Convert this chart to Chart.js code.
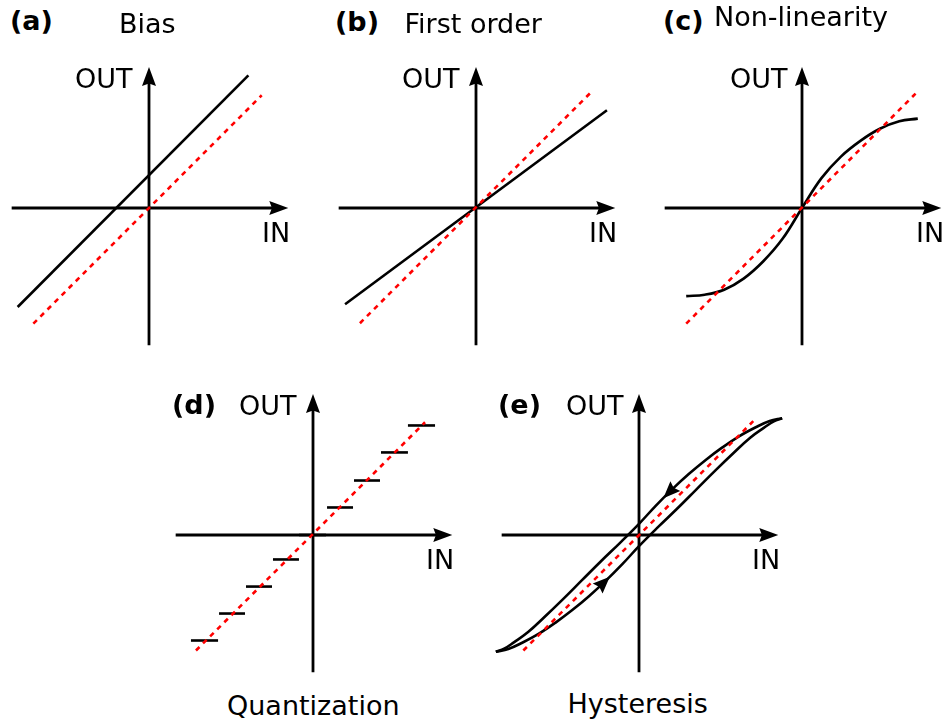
<!DOCTYPE html>
<html><head><meta charset="utf-8">
<script src="https://cdn.jsdelivr.net/npm/chart.js@4.4.1/dist/chart.umd.min.js"></script>
<style>
html,body{margin:0;padding:0;background:#fff;overflow:hidden;width:943px;height:719px}
.p{position:absolute;width:292px;height:292px}
.t{position:absolute;font-family:"DejaVu Sans";font-size:27px;line-height:27px;white-space:nowrap;color:#000}
.b{font-weight:bold}
</style></head><body>
<div class="p" style="left:3px;top:62px"><canvas id="ca" width="292" height="292"></canvas></div>
<div class="p" style="left:330px;top:62px"><canvas id="cb" width="292" height="292"></canvas></div>
<div class="p" style="left:656px;top:62px"><canvas id="cc" width="292" height="292"></canvas></div>
<div class="p" style="left:167px;top:389px"><canvas id="cd" width="292" height="292"></canvas></div>
<div class="p" style="left:493px;top:389px"><canvas id="ce" width="292" height="292"></canvas></div>

<div class="t b" style="left:10px;top:7px">(a)</div>
<div class="t" style="left:119px;top:10px">Bias</div>
<div class="t" style="left:75px;top:64.5px">OUT</div>
<div class="t" style="left:262px;top:219px">IN</div>

<div class="t b" style="left:335px;top:7.5px">(b)</div>
<div class="t" style="left:404.5px;top:10px">First order</div>
<div class="t" style="left:402px;top:64.5px">OUT</div>
<div class="t" style="left:589px;top:219px">IN</div>

<div class="t b" style="left:663px;top:7px">(c)</div>
<div class="t" style="left:714px;top:3px">Non-linearity</div>
<div class="t" style="left:730px;top:64.5px">OUT</div>
<div class="t" style="left:916px;top:219px">IN</div>

<div class="t b" style="left:172px;top:390.5px">(d)</div>
<div class="t" style="left:239px;top:392px">OUT</div>
<div class="t" style="left:426px;top:546px">IN</div>
<div class="t" style="left:227px;top:692px">Quantization</div>

<div class="t b" style="left:498px;top:390.5px">(e)</div>
<div class="t" style="left:566px;top:392px">OUT</div>
<div class="t" style="left:752px;top:546px">IN</div>
<div class="t" style="left:567.5px;top:689.5px">Hysteresis</div>

<script>
// ---- data (units: fraction of the axis half-length) ----
const axisInRange = [-0.988, 1.002];
const axisOutRange = [-0.988, 1.014];

// (a) Bias
const biasIn = [-0.945, 0.715];
const biasOut = [-0.712, 0.954];
const idealA_In = [-0.832, 0.811];
const idealA_Out = [-0.832, 0.811];

// (b) First order
const firstIn = [-0.942, 0.942];
const firstOut = [-0.693, 0.703];
const idealB_In = [-0.835, 0.820];
const idealB_Out = [-0.829, 0.825];

// (c) Non-linearity
const nonlinIn  = [-0.833, -0.70, -0.56, -0.42, -0.28, -0.14, 0, 0.14, 0.28, 0.42, 0.56, 0.70, 0.833];
const nonlinOut = [-0.634, -0.624, -0.588, -0.508, -0.385, -0.222, 0, 0.215, 0.37, 0.483, 0.57, 0.624, 0.643];
const idealC_In = [-0.833, 0.817];
const idealC_Out = [-0.832, 0.823];

// (d) Quantization
const quantLevel = [-0.759, -0.565, -0.371, -0.176, 0, 0.198, 0.392, 0.594, 0.788];
const quantFrom  = [-0.878, -0.676, -0.482, -0.288, -0.101, 0.101, 0.295, 0.489, 0.683];
const quantTo    = [-0.683, -0.489, -0.295, -0.101, 0.094, 0.288, 0.482, 0.683, 0.878];
const idealD_In = [-0.842, 0.806];
const idealD_Out = [-0.831, 0.811];

// (e) Hysteresis
const hystUpperIn  = [-1.03, -0.97, -0.90, -0.80, -0.68, -0.55, -0.41, -0.27, -0.14, 0, 0.12, 0.24, 0.36, 0.48, 0.60, 0.72, 0.84, 0.94, 1.03];
const hystUpperOut = [-0.84, -0.818, -0.772, -0.70, -0.59, -0.465, -0.325, -0.185, -0.06, 0.08, 0.21, 0.33, 0.44, 0.54, 0.63, 0.71, 0.775, 0.82, 0.84];
const hystLowerIn  = [-1.03, -0.94, -0.84, -0.72, -0.60, -0.48, -0.36, -0.24, -0.12, 0, 0.14, 0.27, 0.41, 0.55, 0.68, 0.80, 0.90, 0.97, 1.03];
const hystLowerOut = [-0.84, -0.82, -0.775, -0.71, -0.63, -0.54, -0.44, -0.33, -0.21, -0.08, 0.06, 0.185, 0.325, 0.465, 0.59, 0.70, 0.772, 0.818, 0.84];
const idealE_In = [-0.832, 0.822];
const idealE_Out = [-0.831, 0.819];
const hystArrowAt = [-0.21, 0.175];
const hystArrowDir = [1, -1];

// ---- helpers ----
const R = 146 / 139;
function pts(xs, ys) { return xs.map((x, i) => ({ x: x, y: ys[i] })); }
function black(xs, ys, smooth) {
  return { data: pts(xs, ys), showLine: true, borderColor: '#000', borderWidth: 2.6, pointRadius: 0, fill: false,
    tension: smooth ? 0.4 : 0, borderCapStyle: 'butt', borderJoinStyle: 'round' };
}
function red(xs, ys) {
  return { data: pts(xs, ys), showLine: true, borderColor: '#ff0000', borderWidth: 2.6, borderDash: [5, 5],
    pointRadius: 0, fill: false, borderCapStyle: 'butt' };
}
function arrowHead(ctx, tx, ty, ang, L, W) {
  ctx.save(); ctx.translate(tx, ty); ctx.rotate(ang);
  ctx.beginPath(); ctx.moveTo(0, 0); ctx.lineTo(-L, -W); ctx.lineTo(-L * 0.86, 0); ctx.lineTo(-L, W); ctx.closePath();
  ctx.fill(); ctx.restore();
}
const axisPlugin = {
  id: 'axesArrows',
  beforeDatasetsDraw(chart) {
    const ctx = chart.ctx, sx = chart.scales.x, sy = chart.scales.y;
    const x0 = sx.getPixelForValue(0), y0 = sy.getPixelForValue(0);
    const xl = sx.getPixelForValue(axisInRange[0]), xr = sx.getPixelForValue(axisInRange[1]);
    const yb = sy.getPixelForValue(axisOutRange[0]), yt = sy.getPixelForValue(axisOutRange[1]);
    ctx.save();
    ctx.strokeStyle = '#000'; ctx.fillStyle = '#000'; ctx.lineWidth = 2.8;
    ctx.beginPath();
    ctx.moveTo(xl, y0); ctx.lineTo(xr - 14, y0);
    ctx.moveTo(x0, yb); ctx.lineTo(x0, yt + 14);
    ctx.stroke();
    arrowHead(ctx, xr, y0, 0, 19, 7);
    arrowHead(ctx, x0, yt, -Math.PI / 2, 19, 7);
    ctx.restore();
  }
};
function interp(xs, ys, x) {
  for (let i = 0; i < xs.length - 1; i++) {
    if (x >= xs[i] && x <= xs[i + 1]) { const t = (x - xs[i]) / (xs[i + 1] - xs[i]); return ys[i] + t * (ys[i + 1] - ys[i]); }
  }
  return ys[ys.length - 1];
}
const hystArrowPlugin = {
  id: 'hystArrows',
  afterDatasetsDraw(chart) {
    const ctx = chart.ctx, sx = chart.scales.x, sy = chart.scales.y;
    const branches = [[hystLowerIn, hystLowerOut], [hystUpperIn, hystUpperOut]];
    ctx.save(); ctx.fillStyle = '#000';
    hystArrowAt.forEach((ax, i) => {
      const [bx, by] = branches[i];
      const d = hystArrowDir[i];
      const px = sx.getPixelForValue(ax), py = sy.getPixelForValue(interp(bx, by, ax));
      const qx = sx.getPixelForValue(ax - d * 0.04), qy = sy.getPixelForValue(interp(bx, by, ax - d * 0.04));
      const ang = Math.atan2(py - qy, px - qx);
      arrowHead(ctx, px, py, ang, 17, 7);
    });
    ctx.restore();
  }
};
function makeChart(id, datasets, extra) {
  return new Chart(document.getElementById(id), {
    type: 'scatter',
    data: { datasets: datasets },
    options: {
      responsive: false, animation: false, devicePixelRatio: 1, events: [],
      layout: { padding: 0 },
      plugins: { legend: { display: false }, tooltip: { enabled: false } },
      scales: {
        x: { type: 'linear', min: -R, max: R, display: false },
        y: { type: 'linear', min: -R, max: R, display: false }
      }
    },
    plugins: [axisPlugin].concat(extra || [])
  });
}

makeChart('ca', [red(idealA_In, idealA_Out), black(biasIn, biasOut, false)]);
makeChart('cb', [red(idealB_In, idealB_Out), black(firstIn, firstOut, false)]);
makeChart('cc', [red(idealC_In, idealC_Out), black(nonlinIn, nonlinOut, true)]);
const quantSets = [red(idealD_In, idealD_Out)];
quantLevel.forEach((lv, i) => quantSets.push(black([quantFrom[i], quantTo[i]], [lv, lv], false)));
makeChart('cd', quantSets);
makeChart('ce', [red(idealE_In, idealE_Out), black(hystUpperIn, hystUpperOut, true), black(hystLowerIn, hystLowerOut, true)], [hystArrowPlugin]);
</script>
</body></html>
